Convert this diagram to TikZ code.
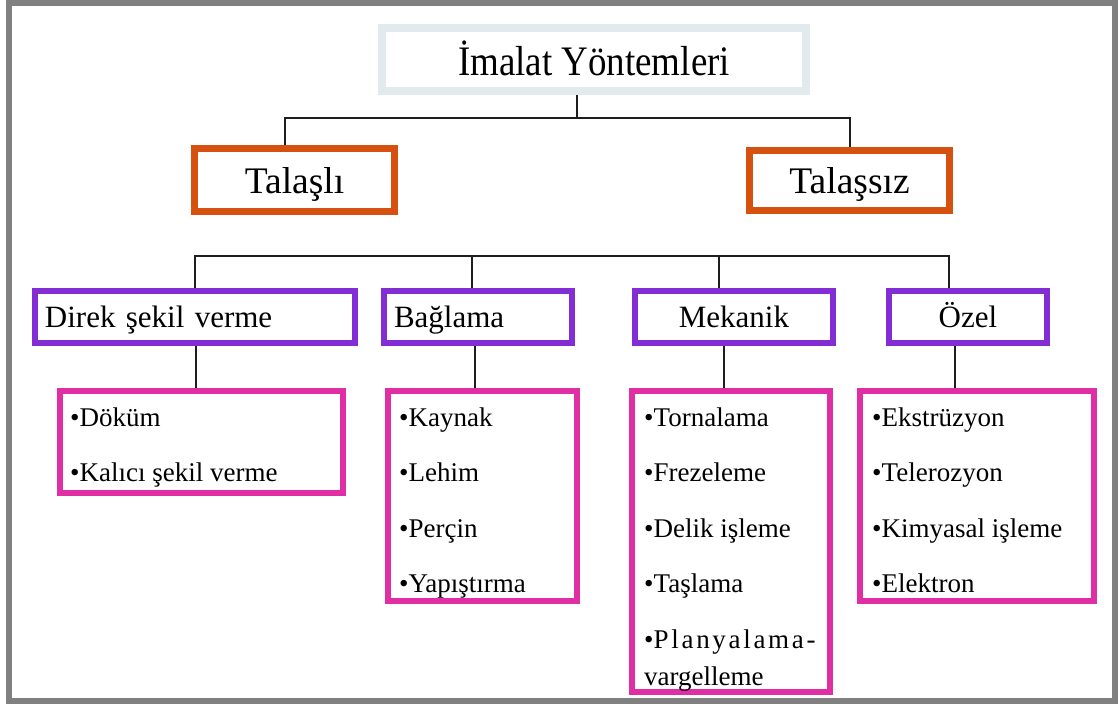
\documentclass[tikz,border=0pt]{standalone}
\usepackage{fontspec}
\setmainfont{Liberation Serif}
\newfontfamily\titlefont[FakeStretch=0.88]{Liberation Serif}
\newfontfamily\spacedfont[LetterSpace=10]{Liberation Serif}
\definecolor{framegray}{RGB}{128,128,128}
\definecolor{rootc}{RGB}{226,234,238}
\definecolor{orangec}{RGB}{214,80,16}
\definecolor{purplec}{RGB}{131,46,212}
\definecolor{pinkc}{RGB}{224,46,164}
\definecolor{linec}{RGB}{30,30,30}
\begin{document}
\begin{tikzpicture}[x=1pt,y=-1pt,
  box/.style={draw, fill=white, inner sep=0pt, text=black},
  rootbox/.style={box, draw=rootc, line width=8pt,
    font=\titlefont\fontsize{42}{48}\selectfont, text height=33pt, text depth=2pt},
  lvlone/.style={box, draw=orangec, line width=7pt,
    font=\fontsize{37.5}{44}\selectfont, text height=29pt, text depth=2pt},
  lvltwo/.style={box, draw=purplec, line width=6pt, minimum height=52pt,
    font=\fontsize{31}{36}\selectfont, text height=22pt, text depth=2pt},
  lvltwoleft/.style={lvltwo, align=left, inner xsep=10pt},
  listbox/.style={box, draw=pinkc, line width=6pt},
  listtext/.style={anchor=north west, inner sep=0pt, align=left, text=black,
    font=\fontsize{27}{55.5}\selectfont},
  conn/.style={draw=linec, line width=2.4pt}
]
\useasboundingbox (0,0) rectangle (1120,704);
\fill[white] (0,0) rectangle (1120,704);
\draw[framegray, line width=6pt] (9,3) rectangle (1115,701);

% connectors level 0 -> 1
\coordinate (bus1) at (577,118);
\coordinate (bus2) at (0,256);

% level 0
\node[rootbox, minimum width=424pt, minimum height=63pt] (root) at (594,59.5) {İmalat Yöntemleri};

% level 1
\node[lvlone, minimum width=200pt, minimum height=63pt] (talasli) at (294.5,180) {Talaşlı};
\node[lvlone, minimum width=200pt, minimum height=60pt] (talassiz) at (849.5,180) {Talaşsız};

% level 2
\node[lvltwoleft, text width=300pt, minimum width=320pt] (direk) at (195,317) {Direk şekil verme};
\node[lvltwoleft, text width=168pt, minimum width=188pt] (baglama) at (478,317) {Bağlama};
\node[lvltwo, minimum width=198pt] (mekanik) at (734,317) {Mekanik};
\node[lvltwo, minimum width=158pt] (ozel) at (968,317) {Özel};

% level 3
\node[listbox, minimum width=283pt, minimum height=102pt] (b1) at (201.5,442) {};
\node[listbox, minimum width=189pt, minimum height=210pt] (b2) at (482.5,496) {};
\node[listbox, minimum width=198pt, minimum height=301pt] (b3) at (731,541.5) {};
\node[listbox, minimum width=234pt, minimum height=210pt] (b4) at (977,496) {};

\node[listtext] (t1) at (70,402) {\rule{0pt}{24pt}•Döküm\\•Kalıcı şekil verme};
\node[listtext] (t2) at (399,402) {\rule{0pt}{24pt}•Kaynak\\•Lehim\\•Perçin\\•Yapıştırma};
\node[listtext] (t3) at (644,402) {\rule{0pt}{24pt}•Tornalama\\•Frezeleme\\•Delik işleme\\•Taşlama\\•{\spacedfont Planyalama-}\\[-18.5pt]vargelleme};
\node[listtext] (t4) at (872,402) {\rule{0pt}{24pt}•Ekstrüzyon\\•Telerozyon\\•Kimyasal işleme\\•Elektron};

\draw[conn] ([xshift=-17pt]root.south) -- (bus1);
\draw[conn] ([xshift=-9.5pt]talasli.north) |- (bus1) -| ([xshift=0.5pt]talassiz.north);

% level 2 bus
\draw[conn] (direk.north) -- (direk.north |- bus2)
  -- ([xshift=-19pt]ozel.north |- bus2) -- ([xshift=-19pt]ozel.north);
\draw[conn] ([xshift=-6pt]baglama.north) -- ([xshift=-6pt]baglama.north |- bus2);
\draw[conn] ([xshift=-15pt]mekanik.north) -- ([xshift=-15pt]mekanik.north |- bus2);

% level 2 -> 3
\draw[conn] ([xshift=1pt]direk.south) -- ([xshift=1pt]direk.south |- b1.north);
\draw[conn] ([xshift=-3pt]baglama.south) -- ([xshift=-3pt]baglama.south |- b2.north);
\draw[conn] ([xshift=-10pt]mekanik.south) -- ([xshift=-10pt]mekanik.south |- b3.north);
\draw[conn] ([xshift=-13pt]ozel.south) -- ([xshift=-13pt]ozel.south |- b4.north);
\end{tikzpicture}
\end{document}
